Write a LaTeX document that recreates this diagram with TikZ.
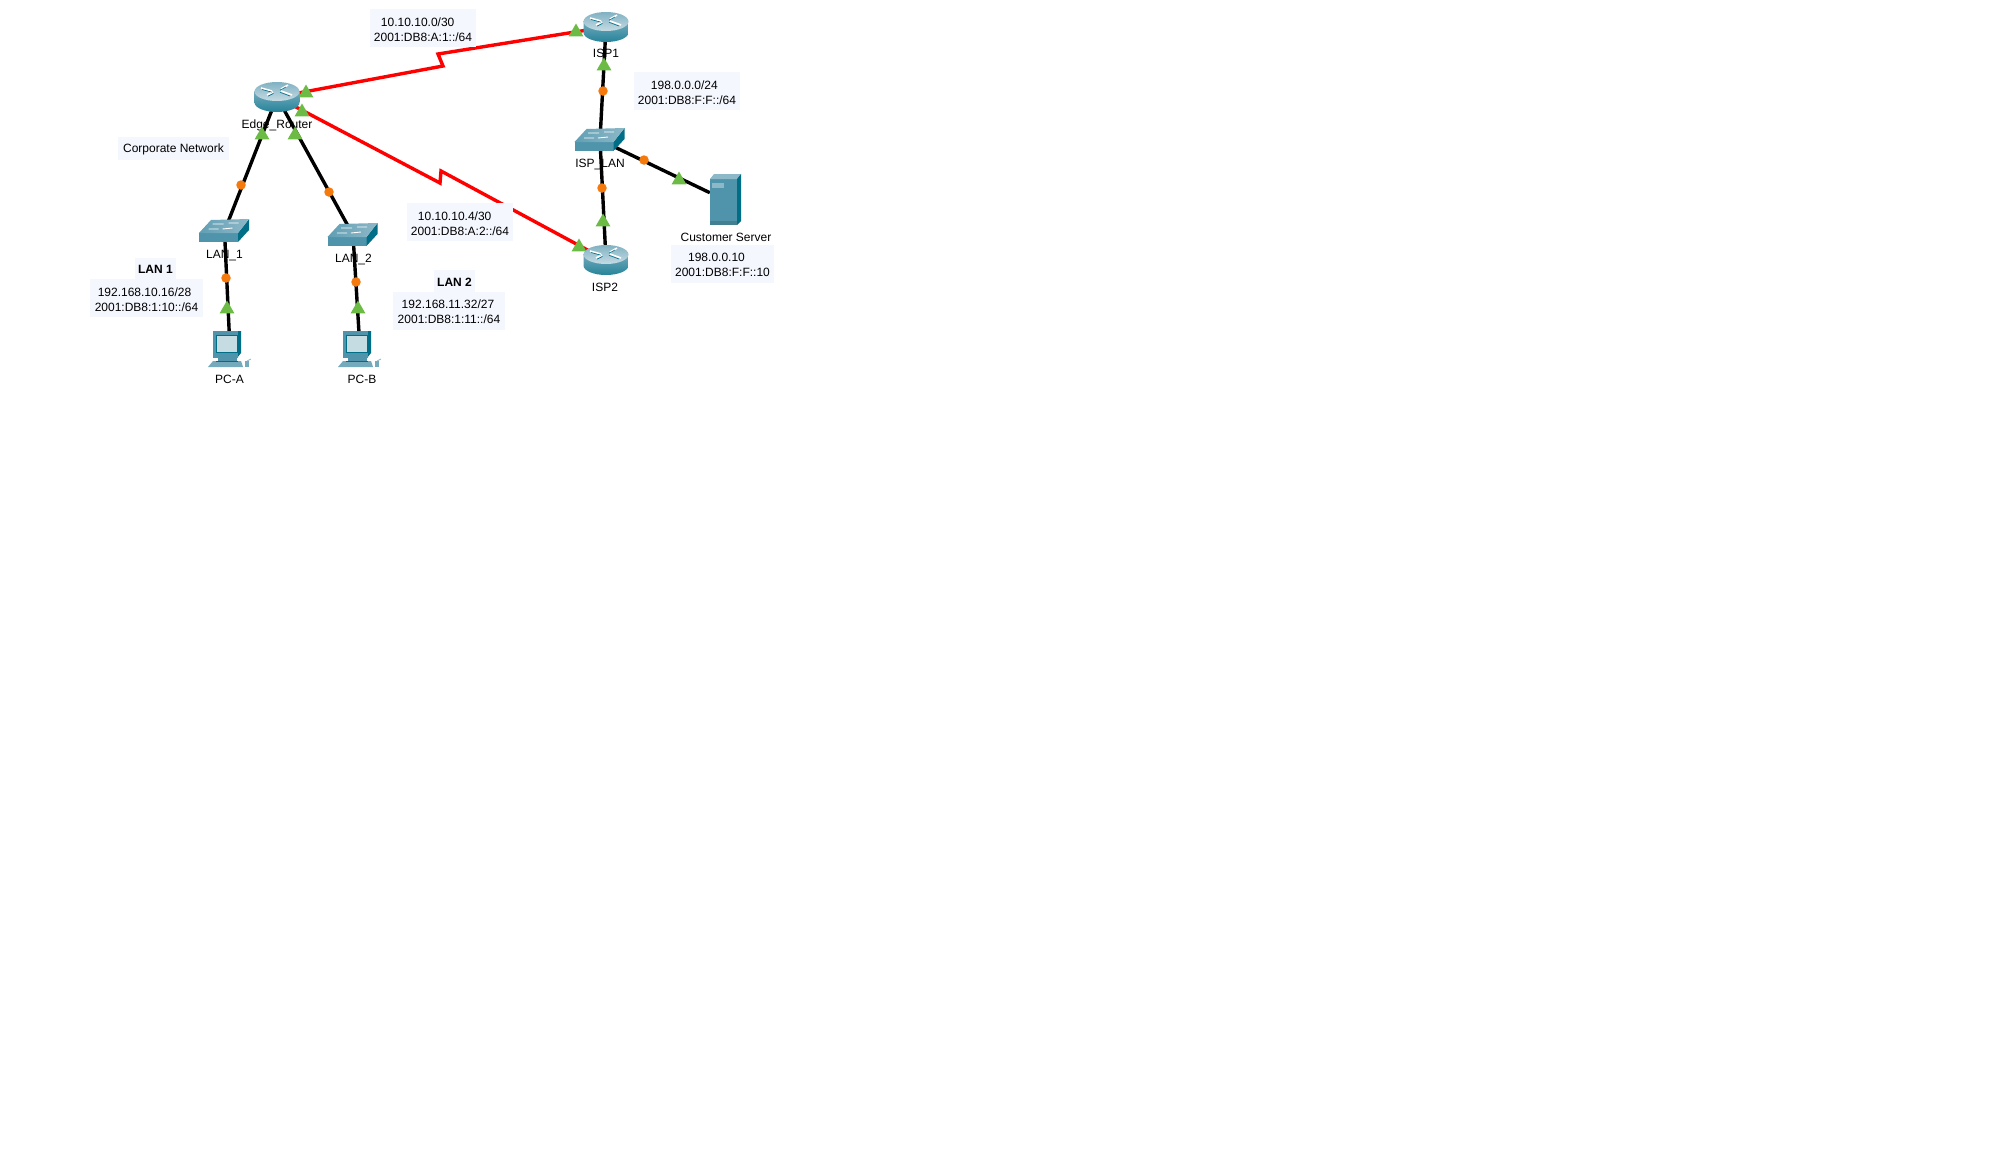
\documentclass[tikz,border=0pt]{standalone}
\usepackage{fontspec}
\setmainfont{Liberation Sans}
\usetikzlibrary{shapes.geometric}

\definecolor{serialred}{HTML}{FF0000}
\definecolor{linkgreen}{HTML}{6CBB45}
\definecolor{linkorange}{HTML}{F47A0E}
\definecolor{labelbg}{HTML}{F5F7FF}
\definecolor{tealdark}{HTML}{006E87}
\definecolor{tealmid}{HTML}{4F94AB}
\definecolor{teallight}{HTML}{8DB8C8}

\newcommand{\lowtext}[1]{\raisebox{-1.3pt}[\height][\depth]{#1}}

\tikzset{
  device/.style={inner sep=0pt, minimum width=30pt, minimum height=20pt},
  cable/.style={black, line width=3.4pt},
  serial/.style={serialred, line width=3.4pt, line join=miter},
  linkdot/.style={circle, fill=linkorange, inner sep=0pt, minimum size=9.5pt},
  linkup/.style={regular polygon, regular polygon sides=3, fill=linkgreen, inner sep=0pt, minimum size=17pt},
  devlabel/.style={inner sep=0pt, font=\fontsize{12}{15}\selectfont},
  netlabel/.style={fill=labelbg, inner sep=0pt, align=left, minimum width=106pt, minimum height=38pt, font=\fontsize{12}{15}\selectfont},
  pics/routericon/.style={code={
    \shade[left color=tealmid!80!white, middle color=white, right color=tealdark!85!white, shading angle=0]
      (-22.5,-5.5) -- (-22.5,5.5) arc[start angle=180, end angle=360, x radius=22.5pt, y radius=9.5pt]
      -- (22.5,-5.5) -- cycle;
    \shade[top color=teallight!80!tealmid, bottom color=teallight!50!white]
      (0,-5.5) ellipse[x radius=22.5pt, y radius=9.5pt];
    \draw[white, line width=1.6pt] (-16,-9) -- (-5,-6) (-10,-2) -- (-4,-5) (4,-6) -- (15,-2) (4,-8) -- (11,-12);
    \draw[tealdark, line width=.6pt] (-15,-7.5) -- (-5,-4.8) (-9,-.8) -- (-3.5,-3.6) (3,-4.7) -- (13,-1) (3,-6.8) -- (9,-10);
  }},
  pics/switchicon/.style={code={
    \fill[tealmid] (-25.5,2) rectangle (13.5,11);
    \fill[tealdark] (13.5,2) -- (24.5,-12) -- (24.5,-1) -- (13.5,11) -- cycle;
    \shade[left color=tealmid!90!white, right color=teallight] (-25.5,2) -- (-13.5,-11) -- (24.5,-12) -- (13.5,2) -- cycle;
    \draw[white, line width=.9pt] (-12,-7) -- (-1,-7) (4,-8) -- (14,-8) (-16,-2) -- (-6,-2) (-2,-2) -- (8,-3);
  }},
  pics/pcicon/.style={code={
    \fill[tealdark] (7,-18) -- (11,-18) -- (11,4) -- (7,9) -- cycle;
    \fill[tealmid] (-17,-18) rectangle (8,9);
    \fill[teallight!50!white] (-13.5,-13.5) rectangle (7.5,3);
    \draw[tealdark, line width=1pt] (-13.5,-13.5) rectangle (7.5,3);
    \fill[tealmid] (-12,9) rectangle (7,12);
    \fill[teallight!60!tealmid] (-17,12) -- (11,12) -- (13,18) -- (-22,18) -- cycle;
    \fill[tealdark] (-14,11.5) rectangle (8,12.5);
    \fill[teallight!60!tealmid] (15,12) rectangle (19,18);
    \draw[teallight, line width=.8pt] (17,12) -- (21,10);
  }},
  pics/servericon/.style={code={
    \fill[tealmid] (-15,-21) rectangle (12,24);
    \fill[teallight] (-15,-21) -- (-11,-26) -- (16,-26) -- (12,-21) -- cycle;
    \fill[tealdark] (12,-21) -- (16,-26) -- (16,21) -- (12,25) -- cycle;
    \fill[teallight] (-13,-17) rectangle (-1,-12);
    \fill[tealmid!85!black] (-15,21) rectangle (12,25);
  }},
}

\begin{document}
\begin{tikzpicture}[x=1pt, y=-1pt]
  \path[use as bounding box, fill=white] (0,0) rectangle (1990,1165);

  \node[device] (er) at (277,97) {};
  \node[device] (isp1) at (606,27) {};
  \node[device] (isp2) at (606,260) {};
  \node[device] (sw1) at (224.5,231) {};
  \node[device] (sw2) at (353,235) {};
  \node[device] (swisp) at (600,140) {};
  \node[device] (pc1) at (230,349) {};
  \node[device] (pc2) at (360,349) {};
  \node[device] (srv) at (725,200) {};

  \coordinate (z1) at (443,66);
  \coordinate (z2) at (438,54);
  \coordinate (z3) at (440,183);
  \coordinate (z4) at (441,171);

  \draw[serial] (er.center) -- (z1) -- (z2) -- (isp1.center);
  \draw[serial] (er.center) -- (z3) -- (z4) -- (isp2.center);
  \draw[cable] (er) -- (sw1);
  \draw[cable] (er) -- (sw2);
  \draw[cable] (sw1) -- (pc1);
  \draw[cable] (sw2) -- (pc2);
  \draw[cable] (isp1) -- (swisp);
  \draw[cable] (swisp) -- (isp2);
  \draw[cable] (swisp) -- (srv);

  \pic at (er) {routericon};
  \pic at (isp1) {routericon};
  \pic at (isp2) {routericon};
  \pic at (sw1) {switchicon};
  \pic at (sw2) {switchicon};
  \pic at (swisp) {switchicon};
  \pic at (pc1) {pcicon};
  \pic at (pc2) {pcicon};
  \pic at (srv) {servericon};

  \node[linkdot] (d1) at (241,185) {};
  \node[linkdot] (d2) at (329,192) {};
  \node[linkdot] (d3) at (226,278) {};
  \node[linkdot] (d4) at (356,282) {};
  \node[linkdot] (d5) at (603,91) {};
  \node[linkdot] (d6) at (602,188) {};
  \node[linkdot] (d7) at (644,160) {};

  \node[devlabel] (ler) at (277,125) {Edge\_Router};
  \node[devlabel] (lsw1) at (224.5,255.5) {LAN\_1};
  \node[devlabel] (lsw2) at (353.5,259.5) {LAN\_2};
  \node[devlabel] (lpc1) at (229.5,379) {PC-A};
  \node[devlabel] (lpc2) at (362,379) {PC-B};
  \node[devlabel] (lisp1) at (606,53) {ISP1};
  \node[devlabel] (lswisp) at (600,164) {ISP\_LAN};
  \node[devlabel] (lisp2) at (605,287) {ISP2};
  \node[devlabel] (lsrv) at (726,237.5) {Customer Server};

  \node[netlabel] (n1) at (423,28) {\hspace*{7pt}\lowtext{10.10.10.0/30}\\\lowtext{2001:DB8:A:1::/64}};
  \node[netlabel] (n2) at (460,222) {\hspace*{7pt}\lowtext{10.10.10.4/30}\\\lowtext{2001:DB8:A:2::/64}};
  \node[netlabel] (n3) at (687,91) {\hspace*{13pt}\lowtext{198.0.0.0/24}\\\lowtext{2001:DB8:F:F::/64}};
  \node[netlabel, minimum width=103pt] (n4) at (722.5,264) {\hspace*{13pt}\lowtext{198.0.0.10}\\\lowtext{2001:DB8:F:F::10}};
  \node[netlabel, minimum width=113pt] (n5) at (146.5,298) {\hspace*{3pt}\lowtext{192.168.10.16/28}\\\lowtext{2001:DB8:1:10::/64}};
  \node[netlabel, minimum width=112pt] (n6) at (449,310.5) {\hspace*{4pt}\lowtext{192.168.11.32/27}\\\lowtext{2001:DB8:1:11::/64}};
  \node[netlabel, minimum width=41pt, minimum height=21pt] (lan1) at (155.5,268.5) {\lowtext{\textbf{LAN 1}}};
  \node[netlabel, minimum width=41pt, minimum height=22pt] (lan2) at (454.5,281) {\lowtext{\textbf{LAN 2}}};
  \node[netlabel, minimum width=111pt, minimum height=23pt] (corp) at (173.5,148.5) {\lowtext{Corporate Network}};

  \node[linkup] (t1) at (306,93) {};
  \node[linkup] (t2) at (576,32) {};
  \node[linkup] (t3) at (302,112) {};
  \node[linkup] (t4) at (579,247) {};
  \node[linkup] (t5) at (262,135) {};
  \node[linkup] (t6) at (295,135) {};
  \node[linkup] (t7) at (227,309) {};
  \node[linkup] (t8) at (358,309) {};
  \node[linkup] (t9) at (604,66) {};
  \node[linkup] (t10) at (603,222) {};
  \node[linkup] (t11) at (679,180) {};
\end{tikzpicture}
\end{document}
